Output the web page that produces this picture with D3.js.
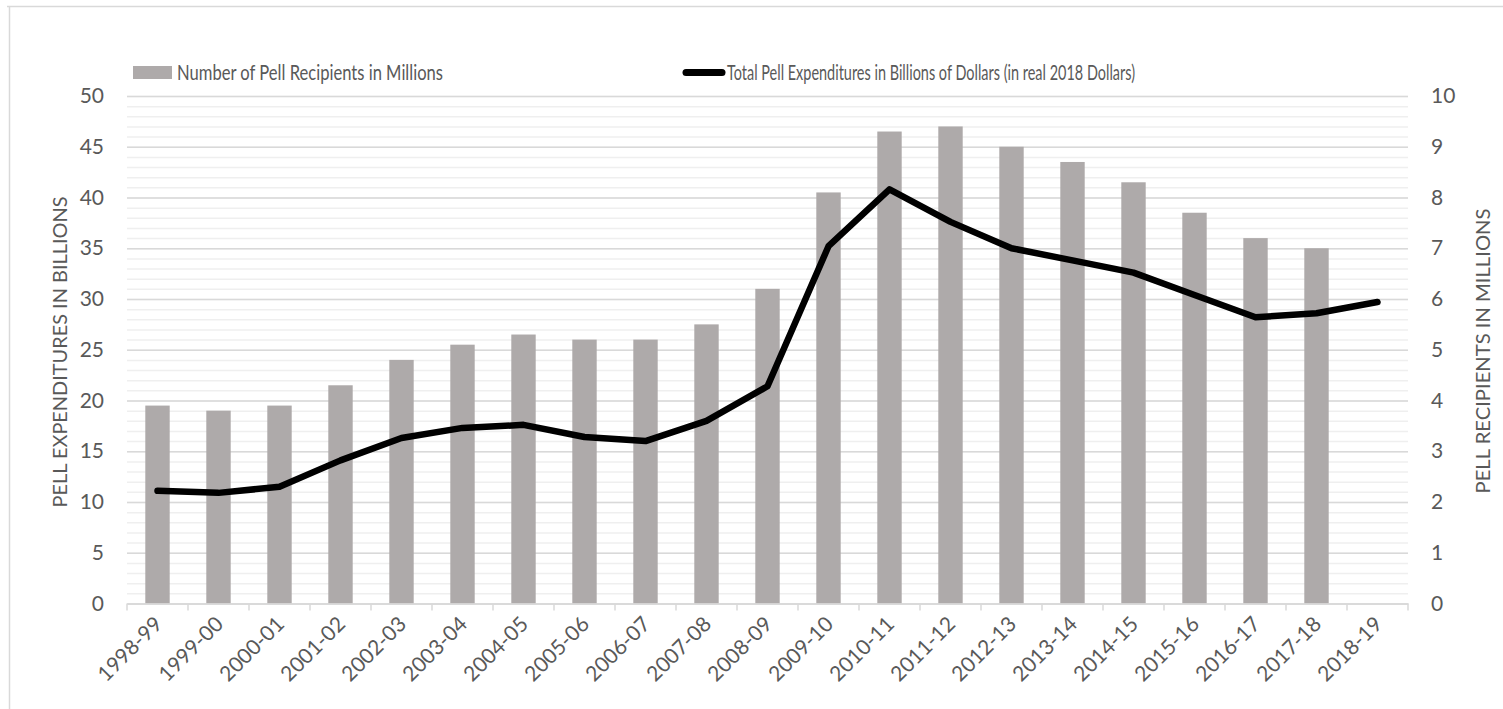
<!DOCTYPE html>
<html>
<head>
<meta charset="utf-8">
<script src="https://cdn.jsdelivr.net/npm/d3@7"></script>
<style>
  body { margin: 0; background: #fff; }
  svg { display: block; font-family: Lato, "Open Sans", sans-serif; }
</style>
</head>
<body>
<div id="chart"></div>
<script>
// Data
const years = ["1998-99", "1999-00", "2000-01", "2001-02", "2002-03", "2003-04", "2004-05",
    "2005-06", "2006-07", "2007-08", "2008-09", "2009-10", "2010-11", "2011-12", "2012-13",
    "2013-14", "2014-15", "2015-16", "2016-17", "2017-18", "2018-19"];
// recipients in millions (right axis); no bar for 2018-19
const recipients = [3.9, 3.8, 3.9, 4.3, 4.8, 5.1, 5.3, 5.2, 5.2, 5.5, 6.2,
    8.1, 9.3, 9.4, 9.0, 8.7, 8.3, 7.7, 7.2, 7.0, null];
// expenditures in billions of 2018 dollars (left axis)
const expenditures = [11.1, 10.9, 11.5, 14.1, 16.3, 17.3, 17.6, 16.4, 16.0, 18.0, 21.4,
    35.2, 40.8, 37.6, 35.0, 33.8, 32.6, 30.4, 28.2, 28.6, 29.7];
const leftTicks = [0, 5, 10, 15, 20, 25, 30, 35, 40, 45, 50];
const rightTicks = [0, 1, 2, 3, 4, 5, 6, 7, 8, 9, 10];

const W = 1503, H = 709;
const plot = { left: 127, right: 1408, top: 96, bottom: 603.5 };
const textColor = "#595959";
const gridColor = "#d9d9d9";

const svg = d3.select("#chart").append("svg")
    .attr("width", W)
    .attr("height", H);

// Chart frame (only top and left edges are visible in the crop)
svg.append("line")
    .attr("x1", 7).attr("x2", W).attr("y1", 6.5).attr("y2", 6.5)
    .style("stroke", gridColor).style("stroke-width", 1.5);
svg.append("line")
    .attr("x1", 9.5).attr("x2", 9.5).attr("y1", 6).attr("y2", H)
    .style("stroke", gridColor).style("stroke-width", 1.5);

// Scales
const x = d3.scaleBand()
    .domain(years)
    .range([plot.left, plot.right])
    .padding(0);

const yLeft = d3.scaleLinear()
    .domain([0, 50])
    .range([plot.bottom, plot.top]);

const yRight = d3.scaleLinear()
    .domain([0, 10])
    .range([plot.bottom, plot.top]);

// Gridlines: minor every 1 (left scale), major every 5
svg.append("g")
    .attr("transform", `translate(${plot.left},0)`)
    .call(d3.axisLeft(yLeft).ticks(50).tickSize(-(plot.right - plot.left)).tickFormat(""))
    .call(g => g.select(".domain").remove())
    .selectAll("line")
    .style("stroke", "#efefef")
    .style("stroke-width", 1.5);

svg.append("g")
    .attr("transform", `translate(${plot.left},0)`)
    .call(d3.axisLeft(yLeft).tickValues(leftTicks).tickSize(-(plot.right - plot.left)).tickFormat(""))
    .call(g => g.select(".domain").remove())
    .selectAll("line")
    .style("stroke", gridColor)
    .style("stroke-width", 1.5);

// Bars
const barW = x.bandwidth() * 0.4;
svg.append("g")
    .selectAll("rect")
    .data(years.map((yr, i) => ({ yr, v: recipients[i] })).filter(d => d.v != null))
    .join("rect")
    .attr("x", d => x(d.yr) + (x.bandwidth() - barW) / 2)
    .attr("y", d => yRight(d.v))
    .attr("width", barW)
    .attr("height", d => plot.bottom - yRight(d.v))
    .style("fill", "#aeaaaa");

// Bottom axis
const xAxis = svg.append("g")
    .attr("transform", `translate(0,${plot.bottom})`)
    .call(d3.axisBottom(x).tickSize(0).tickFormat(""));
xAxis.select(".domain").style("stroke", gridColor).style("stroke-width", 1.5);

svg.append("g")
    .selectAll("line")
    .data(d3.range(years.length + 1))
    .join("line")
    .attr("x1", i => plot.left + i * x.step())
    .attr("x2", i => plot.left + i * x.step())
    .attr("y1", plot.bottom)
    .attr("y2", plot.bottom + 7)
    .style("stroke", gridColor)
    .style("stroke-width", 1.5);

svg.append("g")
    .selectAll("text")
    .data(years)
    .join("text")
    .attr("transform", d => `translate(${x(d) + x.bandwidth() / 2 + 6},${plot.bottom + 22}) rotate(-45)`)
    .attr("text-anchor", "end")
    .style("font-size", "21px")
    .style("fill", textColor)
    .text(d => d);

// Line
const line = d3.line()
    .x((d, i) => x(years[i]) + x.bandwidth() / 2)
    .y(d => yLeft(d));

svg.append("path")
    .datum(expenditures)
    .attr("d", line)
    .style("fill", "none")
    .style("stroke", "#000")
    .style("stroke-width", 6.5)
    .style("stroke-linejoin", "round")
    .style("stroke-linecap", "round");

// Left axis labels
svg.append("g")
    .attr("transform", `translate(${plot.left},0)`)
    .call(d3.axisLeft(yLeft).tickValues(leftTicks).tickSize(0).tickPadding(23))
    .call(g => g.select(".domain").remove())
    .selectAll("text")
    .style("font-family", "Lato, sans-serif")
    .style("font-size", "21px")
    .style("fill", textColor);

// Right axis labels
svg.append("g")
    .attr("transform", `translate(${plot.right},0)`)
    .call(d3.axisRight(yRight).tickValues(rightTicks).tickSize(0).tickPadding(23))
    .call(g => g.select(".domain").remove())
    .selectAll("text")
    .style("font-family", "Lato, sans-serif")
    .style("font-size", "21px")
    .style("fill", textColor);

// Axis titles
svg.append("text")
    .attr("transform", `translate(67,352) rotate(-90)`)
    .attr("text-anchor", "middle")
    .attr("textLength", 311)
    .attr("lengthAdjust", "spacingAndGlyphs")
    .style("font-size", "20px")
    .style("fill", textColor)
    .text("PELL EXPENDITURES IN BILLIONS");

svg.append("text")
    .attr("transform", `translate(1490,351) rotate(-90)`)
    .attr("text-anchor", "middle")
    .attr("textLength", 285)
    .attr("lengthAdjust", "spacingAndGlyphs")
    .style("font-size", "20px")
    .style("fill", textColor)
    .text("PELL RECIPIENTS IN MILLIONS");

// Legend
const legend = svg.append("g");
legend.append("rect")
    .attr("x", 133).attr("y", 66)
    .attr("width", 39).attr("height", 13)
    .style("fill", "#aeaaaa");
legend.append("text")
    .attr("x", 177).attr("y", 80)
    .attr("textLength", 266)
    .attr("lengthAdjust", "spacingAndGlyphs")
    .style("font-size", "21.5px")
    .style("fill", textColor)
    .text("Number of Pell Recipients in Millions");

legend.append("line")
    .attr("x1", 686).attr("x2", 722)
    .attr("y1", 72.5).attr("y2", 72.5)
    .style("stroke", "#000")
    .style("stroke-width", 7)
    .style("stroke-linecap", "round");
legend.append("text")
    .attr("x", 727).attr("y", 80)
    .attr("textLength", 408)
    .attr("lengthAdjust", "spacingAndGlyphs")
    .style("font-size", "21.5px")
    .style("fill", textColor)
    .text("Total Pell Expenditures in Billions of Dollars (in real 2018 Dollars)");
</script>
</body>
</html>
